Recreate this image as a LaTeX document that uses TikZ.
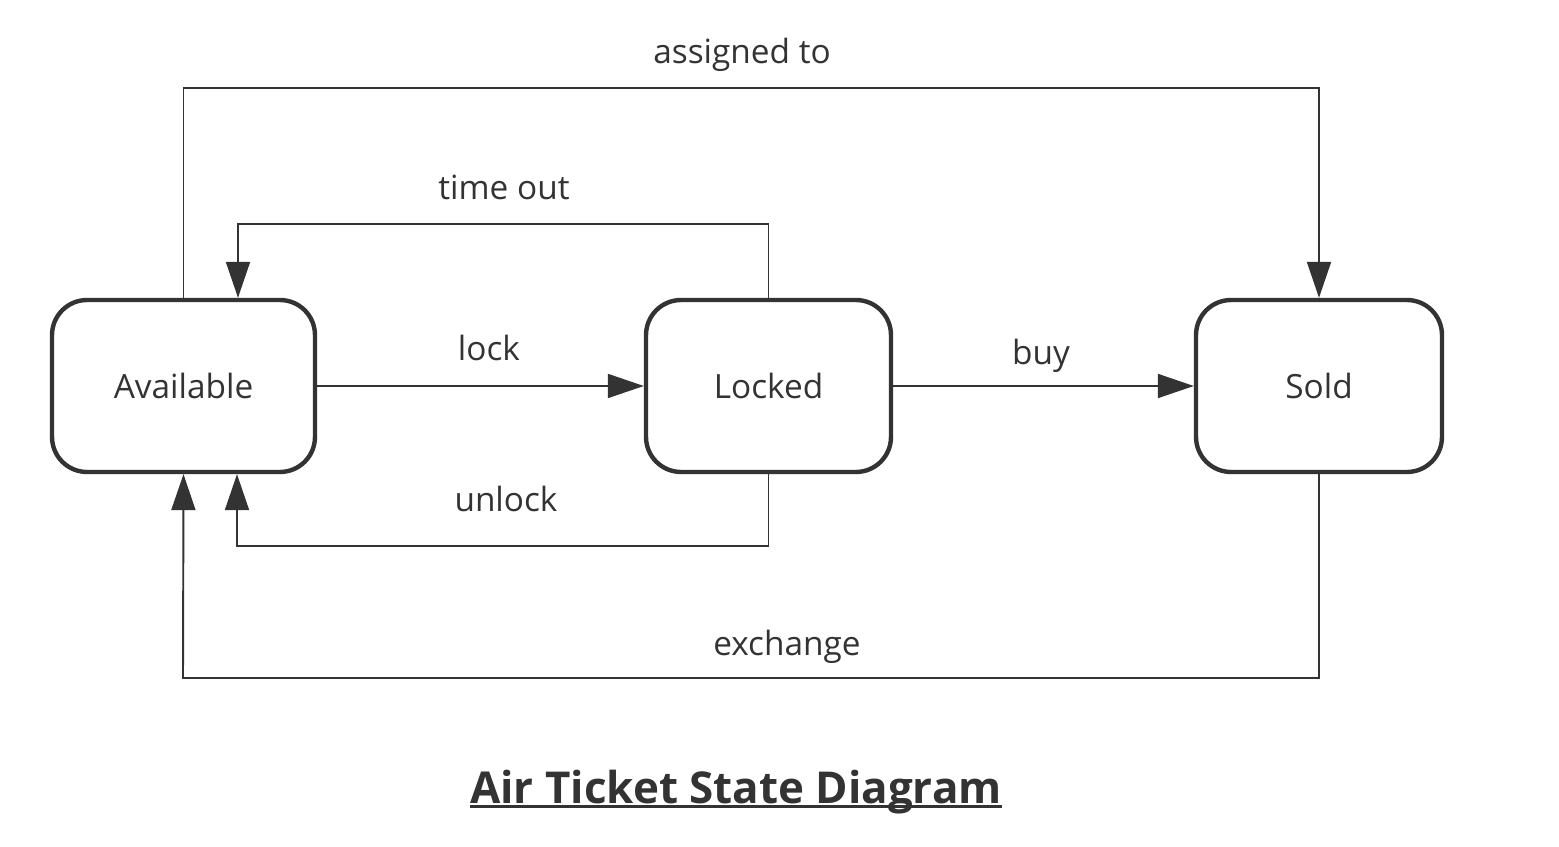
\documentclass[tikz,border=0pt]{standalone}
\usepackage{fontspec}
\setmainfont{Open Sans}
\usetikzlibrary{arrows.meta,positioning}
\definecolor{ink}{HTML}{333333}

\tikzset{
  state/.style={draw=ink, line width=2.5pt, rounded corners=0.7cm, inner sep=0pt,
    minimum height=3.44cm, font=\fontsize{19}{21}\selectfont, text=ink},
  trans/.style={draw=ink, line width=1.1pt, -{Triangle[length=0.72cm,width=0.48cm]}, color=ink},
  lbl/.style={font=\fontsize{19}{21}\selectfont, text=ink}
}

\begin{document}
\begin{tikzpicture}[x=0.02cm, y=-0.02cm]
\useasboundingbox (0,0) rectangle (1559,847);
% States
\node[state, minimum width=5.26cm] (avail) at (183.5,386) {Available};
\node[state, minimum width=4.9cm] (locked) at (768.5,386) {Locked};
\node[state, minimum width=4.92cm] (sold) at (1319,386) {Sold};

% Bend points
\coordinate (assignTop) at (183,88);
\coordinate (timeoutTop) at (238,224);
\coordinate (unlockBot) at (237,546);
\coordinate (exchBot) at (183,678);

% Transitions
\draw[trans] (avail) -- (locked);
\draw[trans] (locked) -- (sold);
\draw[trans] (avail.north) |- (assignTop -| sold.north) -- (sold.north);
\draw[trans] (locked.north) |- (timeoutTop) -- (timeoutTop |- avail.north);
\draw[trans] (locked.south) |- (unlockBot) -- (unlockBot |- avail.south);
\draw[trans] (sold.south) |- (exchBot) -- (avail.south);

% Labels
\node[lbl] (lAssign) at (742,55) {assigned to};
\node[lbl] (lTimeout) at (504,187) {time out};
\node[lbl] (lLock) at (489,348) {lock};
\node[lbl] (lBuy) at (1041,356) {buy};
\node[lbl] (lUnlock) at (506,499) {unlock};
\node[lbl] (lExch) at (787,647) {exchange};

% Title
\node[font=\bfseries\fontsize{25}{28}\selectfont, text=ink, inner sep=0pt, anchor=base]
  (title) at (736,803) {Air Ticket State Diagram};
\draw[ink, line width=1.6pt] ([yshift=-0.07cm]title.base west) -- ([yshift=-0.07cm]title.base east);
\end{tikzpicture}
\end{document}
